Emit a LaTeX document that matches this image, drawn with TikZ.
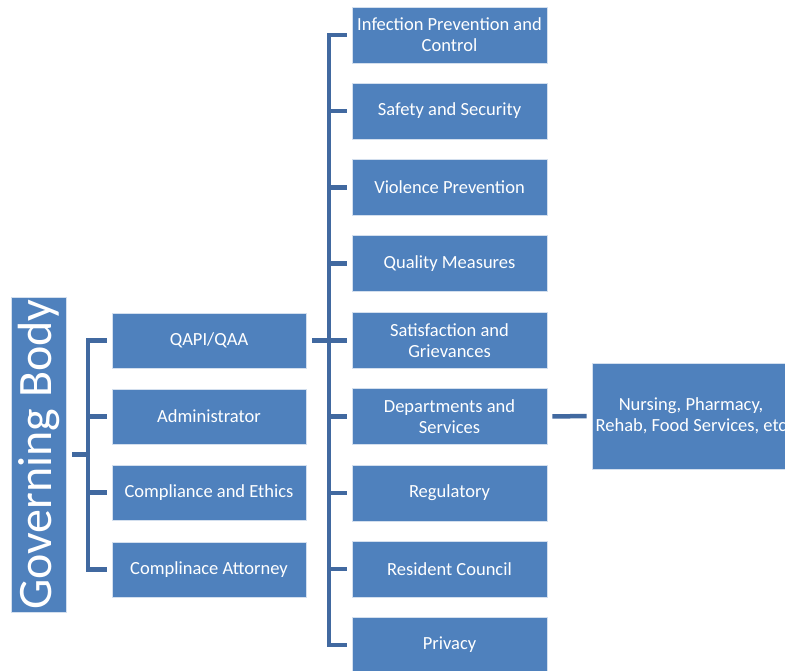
\documentclass[tikz,border=0pt]{standalone}
\usepackage{fontspec}
\setmainfont{Carlito}
\definecolor{boxblue}{HTML}{4F81BD}
\definecolor{linkblue}{RGB}{65,105,160}
\tikzset{
  unit/.style={draw=white!75!boxblue, line width=0.8pt, fill=boxblue, text=white,
    align=center, inner sep=0pt, font=\fontsize{18.5}{21}\selectfont},
  leftunit/.style={unit, minimum width=194pt, minimum height=55pt},
  rightunit/.style={unit, minimum width=195pt, minimum height=56pt},
  link/.style={draw=linkblue, line width=4.5pt}
}
\begin{document}
\begin{tikzpicture}[x=1pt,y=-1pt]
  \useasboundingbox (0,0) rectangle (785,670);
  \node[unit, minimum width=55pt, minimum height=315pt] (gb) at (38.5,454.5) {};
  \node[text=white, rotate=90, font=\fontsize{48}{54}\selectfont] (gbtext) at (gb) {Governing Body};
  \node[leftunit] (qapi) at (209,340.5) {QAPI/QAA};
  \node[leftunit] (admin) at (209,416.5) {Administrator};
  \node[leftunit] (ethics) at (209,492.5) {Compliance and Ethics};
  \node[leftunit] (attorney) at (209,569.5) {Complinace Attorney};
  \node[rightunit] (infection) at (449.5,35) {Infection Prevention and\\Control};
  \node[rightunit] (safety) at (449.5,111) {Safety and Security};
  \node[rightunit] (violence) at (449.5,187.5) {Violence Prevention};
  \node[rightunit] (quality) at (449.5,263.5) {Quality Measures};
  \node[rightunit] (satisfaction) at (449.5,340.5) {Satisfaction and\\Grievances};
  \node[rightunit] (departments) at (449.5,416.5) {Departments and\\Services};
  \node[rightunit] (regulatory) at (449.5,493) {Regulatory};
  \node[rightunit] (council) at (449.5,569) {Resident Council};
  \node[rightunit] (privacy) at (449.5,645) {Privacy};
  \node[unit, minimum width=198pt, minimum height=106pt] (nursing) at (691,416) {Nursing, Pharmacy,\\Rehab, Food Services, etc};
  % brackets
  \coordinate (gbbus) at (88,454.5);
  \coordinate (qapibus) at (329,340.5);
  \draw[link, shorten <=6pt] (gb.east) -- (gbbus);
  \foreach \n in {qapi,admin,ethics,attorney}
    \draw[link, shorten >=5pt] (gbbus) |- (\n.west);
  \draw[link, shorten <=6pt] (qapi.east) -- (qapibus);
  \foreach \n in {infection,safety,violence,quality,satisfaction,departments,regulatory,council,privacy}
    \draw[link, shorten >=5pt] (qapibus) |- (\n.west);
  \draw[link, shorten <=5pt, shorten >=5pt] (departments.east) -- (nursing.west);
\end{tikzpicture}
\end{document}
